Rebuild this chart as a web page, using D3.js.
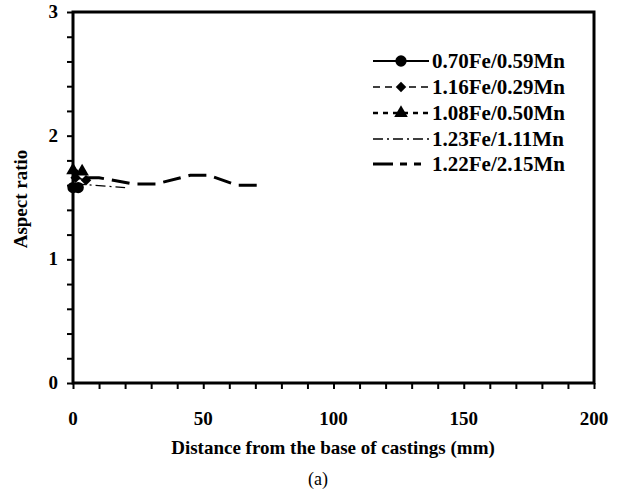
<!DOCTYPE html>
<html><head><meta charset="utf-8">
<script src="https://cdn.jsdelivr.net/npm/d3@7"></script>
<style>body{margin:0;background:#fff}svg{display:block}text{font-family:"Liberation Serif","Times New Roman",serif;font-weight:bold;fill:#000}</style>
</head><body><svg id="c" width="620" height="490"></svg>
<script>
const seriesNames = ["0.70Fe/0.59Mn","1.16Fe/0.29Mn","1.08Fe/0.50Mn","1.23Fe/1.11Mn","1.22Fe/2.15Mn"];
const s1x = [0, 2], s1y = [1.58, 1.58];
const s2x = [1, 5], s2y = [1.66, 1.64];
const s3x = [0, 3.5], s3y = [1.72, 1.71];
const s4x = [1, 20], s4y = [1.61, 1.58];
const s5x = [5, 10, 23, 32, 45, 52, 63, 72], s5y = [1.66, 1.66, 1.61, 1.61, 1.68, 1.68, 1.60, 1.60];
const xTicks = [0, 50, 100, 150, 200];
const yTicks = [0, 1, 2, 3];
const xLabel = "Distance from the base of castings (mm)";
const yLabel = "Aspect ratio";
const caption = "(a)";

const svg = d3.select("#c");
const L = 73, R = 594, T = 12, B = 383;
const x = d3.scaleLinear().domain([0, 200]).range([L, R]);
const y = d3.scaleLinear().domain([0, 3]).range([B, T]);

const series = [
  {xs: s1x, ys: s1y, dash: null, w: 2, marker: d3.symbolCircle, msize: 100},
  {xs: s2x, ys: s2y, dash: "7,5", w: 1.5, marker: d3.symbolDiamond2, msize: 70},
  {xs: s3x, ys: s3y, dash: "5,5", w: 2.5, marker: d3.symbolTriangle, msize: 80},
  {xs: s4x, ys: s4y, dash: "10,4,2,4", w: 1.3, marker: null},
  {xs: s5x, ys: s5y, dash: "18,8", w: 3, marker: null}
];

// axes
const gx = svg.append("g").attr("transform", `translate(0,${B})`)
  .call(d3.axisBottom(x).tickValues(d3.range(0, 201, 10)).tickSize(6).tickFormat(""));
const gy = svg.append("g").attr("transform", `translate(${L},0)`)
  .call(d3.axisLeft(y).tickValues(d3.range(0, 3.01, 0.2)).tickSize(6).tickFormat(""));
[gx, gy].forEach(g => { g.select(".domain").remove(); g.selectAll("line").attr("stroke", "#000").attr("stroke-width", 2); });
svg.append("rect").attr("x", L).attr("y", T).attr("width", R - L).attr("height", B - T)
  .attr("fill", "none").attr("stroke", "#000").attr("stroke-width", 3);

svg.append("g").selectAll("text").data(xTicks).join("text")
  .attr("x", d => x(d)).attr("y", 425).attr("text-anchor", "middle").attr("font-size", 19).text(d => d);
svg.append("g").selectAll("text").data(yTicks).join("text")
  .attr("x", 58).attr("y", d => y(d) + 6).attr("text-anchor", "end").attr("font-size", 19).text(d => d);

svg.append("text").attr("x", 333).attr("y", 454).attr("text-anchor", "middle").attr("font-size", 19).text(xLabel);
svg.append("text").attr("transform", "translate(27,199) rotate(-90)").attr("text-anchor", "middle").attr("font-size", 19).text(yLabel);
svg.append("text").attr("x", 318).attr("y", 485).attr("text-anchor", "middle").attr("font-size", 18).style("font-weight", "normal").text(caption);

// series
const line = d3.line().x(d => x(d[0])).y(d => y(d[1]));
series.slice().reverse().forEach(s => {
  const pts = s.xs.map((v, i) => [v, s.ys[i]]);
  svg.append("path").attr("d", line(pts)).attr("fill", "none").attr("stroke", "#000")
    .attr("stroke-width", s.w).attr("stroke-dasharray", s.dash);
  if (s.marker) {
    svg.append("g").selectAll("path").data(pts).join("path")
      .attr("transform", d => `translate(${x(d[0])},${y(d[1])})`)
      .attr("d", d3.symbol().type(s.marker).size(s.msize)).attr("fill", "#000");
  }
});

// legend
const legY = [61, 87, 113, 139, 164];
const legDash = [null, "7,5", "5,5", "10,4,2,4", "20,7,7,7,7"];
series.forEach((s, i) => {
  const yy = legY[i];
  svg.append("line").attr("x1", 373).attr("x2", 429).attr("y1", yy).attr("y2", yy)
    .attr("stroke", "#000").attr("stroke-width", s.w).attr("stroke-dasharray", legDash[i]);
  if (s.marker) svg.append("path").attr("transform", `translate(401,${yy})`)
    .attr("d", d3.symbol().type(s.marker).size(s.msize)).attr("fill", "#000");
  svg.append("text").attr("x", 432).attr("y", yy + 7).attr("font-size", 21).text(seriesNames[i]);
});
</script></body></html>
